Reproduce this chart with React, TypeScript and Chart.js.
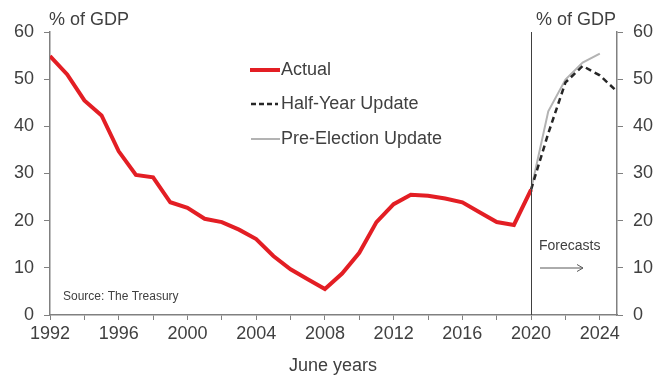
import React, { useEffect, useRef } from "react";
import { Chart, registerables } from "chart.js";

Chart.register(...registerables);

const actualYears = [1992, 1993, 1994, 1995, 1996, 1997, 1998, 1999, 2000, 2001, 2002, 2003, 2004, 2005, 2006, 2007, 2008, 2009, 2010, 2011, 2012, 2013, 2014, 2015, 2016, 2017, 2018, 2019, 2020];
const actualValues = [54.9, 51.0, 45.5, 42.3, 34.7, 29.7, 29.2, 23.9, 22.7, 20.4, 19.7, 18.1, 16.1, 12.5, 9.7, 7.6, 5.5, 8.8, 13.2, 19.7, 23.5, 25.5, 25.3, 24.7, 23.9, 21.8, 19.7, 19.1, 26.6];

const halfYearYears = [2020, 2021, 2022, 2023, 2024, 2025];
const halfYearValues = [26.6, 38.5, 49.3, 52.8, 50.8, 47.4];

const preElectionYears = [2020, 2021, 2022, 2023, 2024];
const preElectionValues = [26.6, 43.2, 49.9, 53.5, 55.4];

const seriesLabels = ["Actual", "Half-Year Update", "Pre-Election Update"];
const yTickValues = [0, 10, 20, 30, 40, 50, 60];
const axisUnit = "% of GDP";
const xTitle = "June years";
const sourceNote = "Source: The Treasury";
const forecastNote = "Forecasts";
const forecastStart = 2020;

const FONT = "'Liberation Sans', Arial, sans-serif";
const TEXT = "#404040";
const AXIS = "#808080";
const RED = "#e31e24";
const DARK = "#262626";
const GREY = "#b3b3b3";

const toPoints = (xs: number[], ys: number[]) => xs.map((x, i) => ({ x, y: ys[i] }));

const overlayPlugin = {
  id: "overlay",
  afterDraw(chart: any) {
    const ctx = chart.ctx;
    const area = chart.chartArea;
    const xs = chart.scales.x;
    ctx.save();
    // vertical forecast line
    const vx = Math.round(xs.getPixelForValue(forecastStart)) + 0.5;
    ctx.strokeStyle = "#404040";
    ctx.lineWidth = 1;
    ctx.beginPath();
    ctx.moveTo(vx, area.top);
    ctx.lineTo(vx, area.bottom);
    ctx.stroke();

    ctx.fillStyle = TEXT;
    ctx.textBaseline = "middle";
    ctx.font = `18px ${FONT}`;
    ctx.textAlign = "left";
    ctx.fillText(axisUnit, area.left - 1, 20);
    ctx.textAlign = "center";
    ctx.fillText(axisUnit, 576, 20);
    ctx.fillText(xTitle, 333, 366);

    // legend
    const lx0 = 250, lx1 = 280, tx = 281;
    const rows = [70, 104, 139];
    ctx.textAlign = "left";
    ctx.font = `18px ${FONT}`;
    // actual
    ctx.strokeStyle = RED;
    ctx.lineWidth = 4;
    ctx.setLineDash([]);
    ctx.beginPath();
    ctx.moveTo(lx0, rows[0]);
    ctx.lineTo(lx1, rows[0]);
    ctx.stroke();
    // half-year
    ctx.strokeStyle = DARK;
    ctx.lineWidth = 2.5;
    ctx.setLineDash([5, 3]);
    ctx.beginPath();
    ctx.moveTo(lx0 + 1, rows[1]);
    ctx.lineTo(lx1 - 2, rows[1]);
    ctx.stroke();
    // pre-election
    ctx.setLineDash([]);
    ctx.strokeStyle = GREY;
    ctx.lineWidth = 2;
    ctx.beginPath();
    ctx.moveTo(lx0 + 1, rows[2]);
    ctx.lineTo(lx1, rows[2]);
    ctx.stroke();
    ctx.fillStyle = TEXT;
    seriesLabels.forEach((l, i) => ctx.fillText(l, tx, rows[i]));

    // source
    ctx.font = `12px ${FONT}`;
    ctx.fillText(sourceNote, 63, 297);

    // forecasts
    ctx.font = `14px ${FONT}`;
    ctx.fillText(forecastNote, 539, 246);
    ctx.strokeStyle = "#595959";
    ctx.lineWidth = 1;
    ctx.beginPath();
    ctx.moveTo(540, 268);
    ctx.lineTo(583, 268);
    ctx.moveTo(577, 264.5);
    ctx.lineTo(583, 268);
    ctx.lineTo(577, 271.5);
    ctx.stroke();
    ctx.restore();
  },
};

export default function App() {
  const ref = useRef<HTMLCanvasElement>(null);
  useEffect(() => {
    document.body.style.margin = "0";
    const tickFont = { family: FONT, size: 18 };
    const chart = new Chart(ref.current!, {
      type: "line",
      data: {
        datasets: [
          {
            label: seriesLabels[0],
            data: toPoints(actualYears, actualValues),
            borderColor: RED,
            borderWidth: 4,
            pointRadius: 0,
            tension: 0,
            yAxisID: "y",
          },
          {
            label: seriesLabels[1],
            data: toPoints(halfYearYears, halfYearValues),
            borderColor: DARK,
            borderWidth: 2.5,
            borderDash: [6, 4],
            pointRadius: 0,
            tension: 0,
            yAxisID: "y",
          },
          {
            label: seriesLabels[2],
            data: toPoints(preElectionYears, preElectionValues),
            borderColor: GREY,
            borderWidth: 2,
            pointRadius: 0,
            tension: 0,
            yAxisID: "y",
          },
        ],
      },
      options: {
        animation: false,
        responsive: true,
        maintainAspectRatio: false,
        layout: { padding: { top: 32, left: 0, right: 0, bottom: 0 } },
        plugins: { legend: { display: false }, tooltip: { enabled: false } },
        scales: {
          x: {
            type: "linear",
            min: 1992,
            max: 2025,
            afterFit: (s: any) => { s.height = 61; },
            ticks: {
              stepSize: 2,
              includeBounds: false,
              autoSkip: false,
              maxRotation: 0,
              padding: 3,
              color: TEXT,
              font: tickFont,
              callback: (v: any) => (Number(v) % 4 === 0 ? String(v) : ""),
            },
            grid: { drawOnChartArea: false, drawTicks: true, tickLength: 5, color: AXIS },
            border: { display: true, color: AXIS, width: 1.5 },
          },
          y: {
            position: "left",
            min: 0,
            max: 60,
            afterFit: (s: any) => { s.width = 50; },
            afterBuildTicks: (s: any) => { s.ticks = yTickValues.map((v) => ({ value: v })); },
            ticks: { color: TEXT, font: tickFont, padding: 10 },
            grid: { drawOnChartArea: false, drawTicks: true, tickLength: 6, color: AXIS },
            border: { display: true, color: AXIS, width: 1.5 },
          },
          y2: {
            position: "right",
            min: 0,
            max: 60,
            afterFit: (s: any) => { s.width = 49; },
            afterBuildTicks: (s: any) => { s.ticks = yTickValues.map((v) => ({ value: v })); },
            ticks: { color: TEXT, font: tickFont, padding: 10 },
            grid: { drawOnChartArea: false, drawTicks: true, tickLength: 6, color: AXIS },
            border: { display: true, color: AXIS, width: 1.5 },
          },
        },
      },
      plugins: [overlayPlugin],
    } as any);
    return () => chart.destroy();
  }, []);
  return (
    <div style={{ position: "relative", width: 666, height: 376 }}>
      <canvas ref={ref} />
    </div>
  );
}
